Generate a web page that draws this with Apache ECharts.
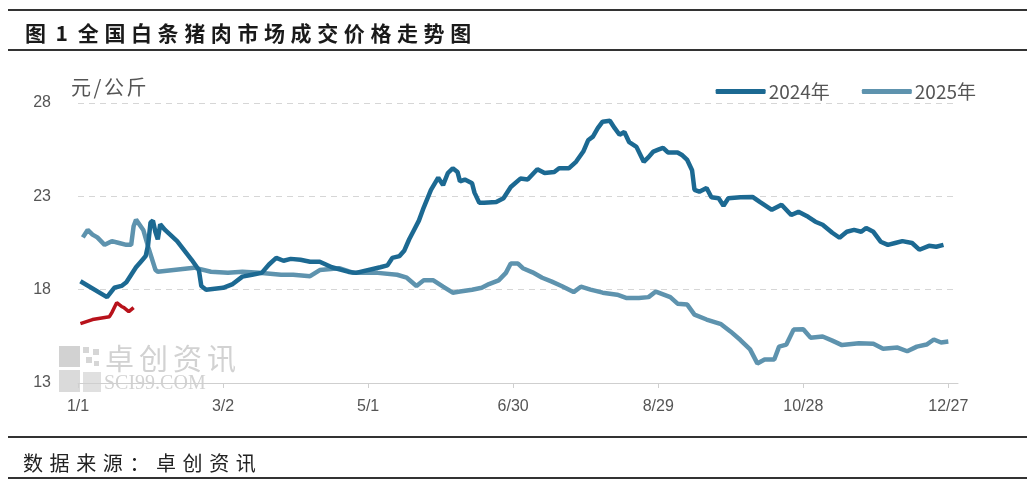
<!DOCTYPE html>
<html>
<head>
<meta charset="utf-8">
<script src="https://cdn.jsdelivr.net/npm/echarts@6/dist/echarts.min.js"></script>
<style>
html,body{margin:0;padding:0;background:#fff;}
#chart{width:1027px;height:490px;}
</style>
</head>
<body>
<div id="chart"></div>
<script>
// ---- data (day index from 1/1, value in 元/公斤) ----
const tickDays = [0, 60, 120, 180, 240, 300, 360];
const tickLabels = ['1/1', '3/2', '5/1', '6/30', '8/29', '10/28', '12/27'];

const days2024 = [1,12,15,18,20,22,24,26,28,29,30,31,32,33,34,36,41,47,50,51,53,60,64,68,72,76,79,82,85,88,92,96,100,105,112,115,125,128,130,133,135,137,139,141,143,146,149,151,153,155,157,158,160,163,164,166,168,173,176,179,183,186,190,193,197,199,203,206,209,211,213,215,217,220,222,224,226,228,231,234,236,238,240,242,244,248,250,252,254,255,257,260,262,265,267,269,274,279,282,287,291,295,298,302,305,308,312,315,318,321,324,326,329,332,335,338,341,345,348,352,355,358];
const vals2024 = [18.45,17.6,18.1,18.2,18.4,18.8,19.2,19.5,19.8,20.4,21.6,21.7,21.1,20.7,21.5,21.2,20.6,19.6,19.05,18.2,18.0,18.1,18.3,18.7,18.8,18.9,19.35,19.7,19.55,19.65,19.6,19.5,19.5,19.2,18.95,18.9,19.2,19.3,19.7,19.8,20.1,20.7,21.2,21.7,22.4,23.35,24.0,23.6,24.25,24.5,24.3,23.8,23.9,23.7,23.2,22.65,22.65,22.7,22.9,23.5,23.95,23.9,24.45,24.25,24.3,24.5,24.5,24.85,25.4,26.0,26.2,26.65,27.0,27.05,26.65,26.3,26.45,25.9,25.65,24.85,25.1,25.4,25.5,25.6,25.35,25.35,25.2,24.95,24.4,23.35,23.25,23.45,22.95,22.9,22.5,22.9,22.95,22.97,22.7,22.28,22.55,22.0,22.17,21.9,21.64,21.48,21.05,20.78,21.1,21.2,21.1,21.3,21.1,20.57,20.4,20.5,20.6,20.5,20.14,20.35,20.3,20.4];

const days2025 = [2,4,6,8,11,14,17,20,22,23,24,27,29,32,33,48,55,62,68,75,84,89,96,100,108,114,124,132,136,140,143,147,151,155,158,163,167,170,174,177,179,182,184,188,192,196,200,205,208,212,217,223,227,232,236,239,242,245,248,252,255,260,266,270,274,278,281,284,288,290,293,296,300,303,308,312,316,323,329,333,339,343,347,351,354,357,360];
const vals2025 = [20.8,21.2,20.95,20.8,20.4,20.6,20.5,20.4,20.4,21.4,21.75,21.2,20.3,19.07,18.96,19.18,18.96,18.9,18.96,18.9,18.8,18.8,18.72,19.05,19.15,18.9,18.9,18.8,18.64,18.2,18.5,18.5,18.16,17.84,17.9,18.0,18.1,18.3,18.5,18.9,19.4,19.4,19.15,18.93,18.64,18.43,18.2,17.87,18.16,18.0,17.84,17.73,17.55,17.55,17.6,17.9,17.75,17.6,17.25,17.2,16.66,16.4,16.15,15.75,15.3,14.8,14.05,14.26,14.26,14.95,15.06,15.86,15.88,15.43,15.49,15.27,15.03,15.13,15.1,14.84,14.9,14.7,14.95,15.06,15.33,15.17,15.22];

const days2026 = [1,6,13,14,16,18,19,21,23];
const vals2026 = [16.18,16.4,16.55,16.77,17.3,17.1,17.04,16.82,17.04];

const seriesNames = ['2024年', '2025年', '2026年'];
const titleText = '图 1 全国白条猪肉市场成交价格走势图';
const unitText = '元/公斤';
const sourceText = '数据来源：卓创资讯';
const wmText = '卓创资讯';
const wmSub = 'SCI99.COM';

// ---- helpers ----
const pair = (d, v) => d.map((x, i) => [x, v[i]]);
function spaced(str, x, cy, size, spacing, weight, color, family, asciiW, spaceW) {
  const out = [];
  let cx = x;
  for (const ch of str) {
    const ascii = ch.charCodeAt(0) < 128;
    if (ch === ' ') { cx += spaceW; continue; }
    out.push({
      type: 'text', left: cx, top: cy - size / 2, silent: true, z: 1,
      style: { text: ch, font: weight + ' ' + size + 'px ' + family, fill: color }
    });
    cx += (ascii ? size * asciiW : size) + spacing;
  }
  return out;
}

const chart = echarts.init(document.getElementById('chart'));
const cjk = '"Noto Sans CJK SC", sans-serif';

const graphics = [
  { type: 'rect', shape: { x: 8, y: 9, width: 1019, height: 2 }, style: { fill: '#333' }, silent: true },
  { type: 'rect', shape: { x: 8, y: 49, width: 1019, height: 2 }, style: { fill: '#333' }, silent: true },
  { type: 'rect', shape: { x: 8, y: 436, width: 1019, height: 2 }, style: { fill: '#333' }, silent: true },
  { type: 'rect', shape: { x: 8, y: 477, width: 1019, height: 2 }, style: { fill: '#333' }, silent: true },
  // watermark logo
  { type: 'rect', shape: { x: 59, y: 346, width: 21, height: 21 }, style: { fill: '#d2d2d2' }, silent: true, z: 0 },
  { type: 'rect', shape: { x: 59, y: 370, width: 21, height: 22 }, style: { fill: '#dadada' }, silent: true, z: 0 },
  { type: 'rect', shape: { x: 83, y: 372, width: 18, height: 20 }, style: { fill: '#e0e0e0' }, silent: true, z: 0 },
  { type: 'rect', shape: { x: 83, y: 347, width: 6, height: 6 }, style: { fill: '#d6d6d6' }, silent: true, z: 0 },
  { type: 'rect', shape: { x: 93, y: 349, width: 6, height: 6 }, style: { fill: '#d6d6d6' }, silent: true, z: 0 },
  { type: 'rect', shape: { x: 86, y: 357, width: 6, height: 6 }, style: { fill: '#d6d6d6' }, silent: true, z: 0 },
  { type: 'rect', shape: { x: 94, y: 361, width: 5, height: 5 }, style: { fill: '#d6d6d6' }, silent: true, z: 0 },
  { type: 'text', left: 104, top: 374, silent: true, z: 0,
    style: { text: wmSub, font: '20px "Liberation Serif", serif', fill: '#d2d2d2' } }
];
graphics.push(...spaced(wmText, 105, 359, 29, 5, 'normal', '#d2d2d2', cjk, 0.6, 4));
graphics.push(...spaced(titleText, 25, 33, 21, 5.6, 'bold', '#1a1a1a', cjk, 0.6, 4));
graphics.push(...spaced(unitText, 71, 87, 20, 2.5, 'normal', '#555', cjk, 0.4, 4));
graphics.push(...spaced(sourceText, 23, 463, 20, 6.6, 'normal', '#222', cjk, 0.6, 4));

chart.setOption({
  animation: false,
  backgroundColor: '#fff',
  grid: { left: 78, right: 69, top: 103, bottom: 107 },
  legend: {
    data: ['2024年', '2025年'],
    right: 46, top: 77,
    icon: 'roundRect', itemWidth: 50, itemHeight: 5, itemGap: 32,
    textStyle: { fontSize: 19, color: '#555', fontFamily: cjk, padding: [0, 0, 0, -2] }
  },
  xAxis: {
    type: 'value', min: 0, max: 364, interval: 60,
    axisLine: { show: true, lineStyle: { color: '#cfcfcf', width: 1 } },
    axisTick: { show: true, length: 5, lineStyle: { color: '#cfcfcf' } },
    splitLine: { show: false },
    axisLabel: {
      margin: 16, fontSize: 16, color: '#555', fontFamily: '"Liberation Sans", sans-serif',
      showMaxLabel: false,
      formatter: v => { const i = tickDays.indexOf(v); return i >= 0 ? tickLabels[i] : ''; }
    }
  },
  yAxis: {
    type: 'value', min: 13, max: 28, interval: 5,
    axisLine: { show: false }, axisTick: { show: false },
    splitLine: { show: true, lineStyle: { type: [6, 5], color: '#d6d6d6', width: 1 } },
    axisLabel: { margin: 27, fontSize: 16, color: '#555', fontFamily: '"Liberation Sans", sans-serif' }
  },
  graphic: graphics,
  series: [
    { name: seriesNames[1], type: 'line', showSymbol: false, data: pair(days2025, vals2025),
      color: '#5e93ae', lineStyle: { width: 4.5, color: '#5e93ae' }, z: 3 },
    { name: seriesNames[0], type: 'line', showSymbol: false, data: pair(days2024, vals2024),
      color: '#1c6992', lineStyle: { width: 4.5, color: '#1c6992' }, z: 4 },
    { name: seriesNames[2], type: 'line', showSymbol: false, data: pair(days2026, vals2026),
      color: '#b8121b', lineStyle: { width: 3.5, color: '#b8121b' }, z: 5 }
  ]
});
</script>
</body>
</html>
